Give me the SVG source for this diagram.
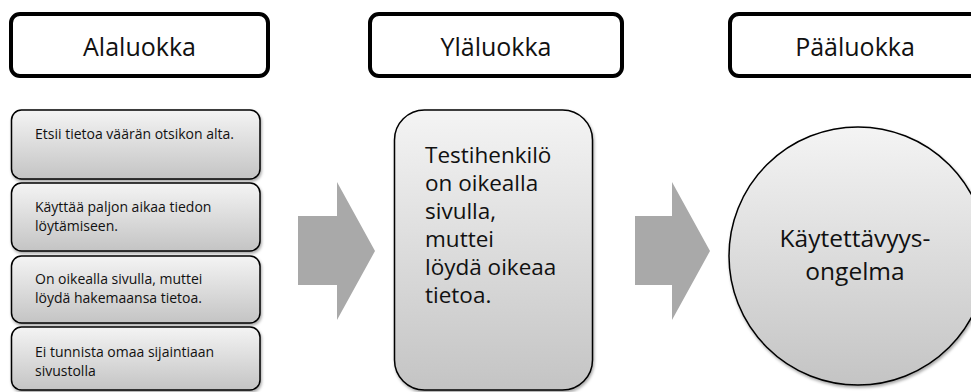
<svg xmlns="http://www.w3.org/2000/svg" width="971" height="392" viewBox="0 0 971 392">
  <defs>
    <linearGradient id="g" x1="0" y1="0" x2="0" y2="1">
      <stop offset="0" stop-color="#f4f4f4"/>
      <stop offset="1" stop-color="#c4c4c4"/>
    </linearGradient>
    <filter id="sh" x="-10%" y="-10%" width="120%" height="130%">
      <feDropShadow dx="1" dy="2" stdDeviation="1.5" flood-color="#000" flood-opacity="0.35"/>
    </filter>
  </defs>
  <style>
    text { font-family: "Open Sans", "Noto Sans", "Liberation Sans", sans-serif; fill: #111; }
    .hdr { fill: #fff; stroke: #000; stroke-width: 4; }
    .hdrt { font-size: 25px; text-anchor: middle; }
    .item { fill: url(#g); stroke: #000; stroke-width: 1.5; filter: url(#sh); }
    .itemt { font-size: 14px; }
    .mid { fill: url(#g); stroke: #000; stroke-width: 1.5; filter: url(#sh); }
    .midt { font-size: 22.5px; }
    .circt { font-size: 24.5px; text-anchor: middle; }
    .arrow { fill: #a9a9a9; }
  </style>

  <g id="hdr-alaluokka">
    <rect class="hdr" x="11" y="14" width="257" height="62" rx="9"/>
    <text class="hdrt" x="139.5" y="56">Alaluokka</text>
  </g>
  <g id="hdr-ylaluokka">
    <rect class="hdr" x="370" y="14" width="252" height="62" rx="9"/>
    <text class="hdrt" x="496" y="56">Yläluokka</text>
  </g>
  <g id="hdr-paaluokka">
    <rect class="hdr" x="730" y="14" width="252" height="62" rx="9"/>
    <text class="hdrt" x="855" y="56">Pääluokka</text>
  </g>

  <g id="item1">
    <rect class="item" x="11.5" y="110" width="248.5" height="69" rx="10"/>
    <text class="itemt" x="35" y="139">Etsii tietoa väärän otsikon alta.</text>
  </g>
  <g id="item2">
    <rect class="item" x="11.5" y="183" width="248.5" height="68" rx="10"/>
    <text class="itemt" x="35" y="212">Käyttää paljon aikaa tiedon</text>
    <text class="itemt" x="35" y="231">löytämiseen.</text>
  </g>
  <g id="item3">
    <rect class="item" x="11.5" y="256" width="248.5" height="67" rx="10"/>
    <text class="itemt" x="35" y="284">On oikealla sivulla, muttei</text>
    <text class="itemt" x="35" y="303">löydä hakemaansa tietoa.</text>
  </g>
  <g id="item4">
    <rect class="item" x="11.5" y="327" width="248.5" height="63" rx="10"/>
    <text class="itemt" x="35" y="357">Ei tunnista omaa sijaintiaan</text>
    <text class="itemt" x="35" y="376">sivustolla</text>
  </g>

  <g id="middle">
    <rect class="mid" x="394.5" y="110" width="198" height="280" rx="30"/>
    <text class="midt" x="425" y="163">Testihenkilö</text>
    <text class="midt" x="425" y="191">on oikealla</text>
    <text class="midt" x="425" y="219">sivulla,</text>
    <text class="midt" x="425" y="247">muttei</text>
    <text class="midt" x="425" y="275">löydä oikeaa</text>
    <text class="midt" x="425" y="303">tietoa.</text>
  </g>

  <g id="circle">
    <circle class="mid" cx="858" cy="256" r="129"/>
    <text class="circt" x="855" y="247">Käytettävyys-</text>
    <text class="circt" x="855" y="280">ongelma</text>
  </g>

  <g id="connectors">
    <polygon class="arrow" points="298,216 337,216 337,182 375,251 337,320 337,285 298,285"/>
    <polygon class="arrow" points="635,216 672,216 672,182 710,251 672,320 672,285 635,285"/>
  </g>
</svg>
